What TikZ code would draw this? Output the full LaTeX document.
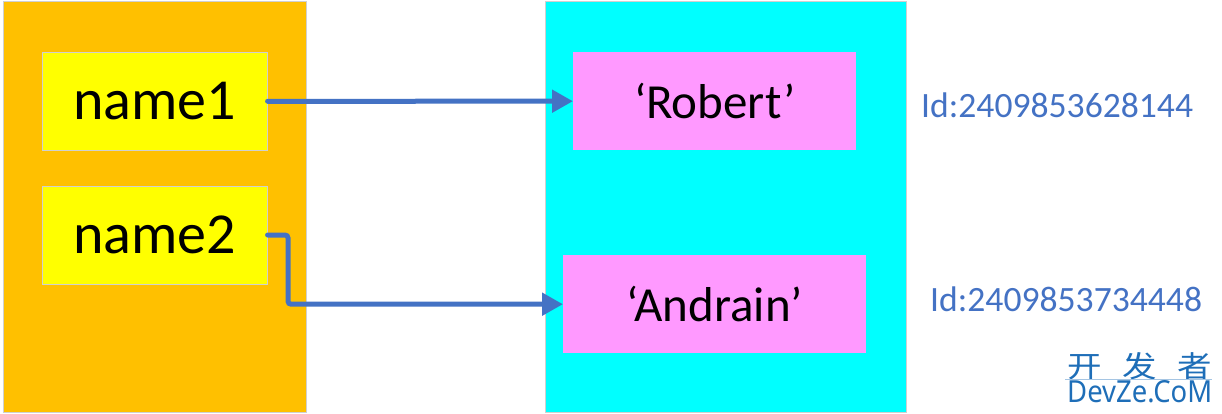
\documentclass[tikz,border=0pt]{standalone}
\usepackage{fontspec}
\usepackage{graphicx}
\setmainfont{Carlito}
\setsansfont{Noto Sans}
\newfontfamily\cjk{Noto Sans CJK SC}
\usetikzlibrary{arrows.meta}
\definecolor{panelorange}{HTML}{FFC000}
\definecolor{boxyellow}{HTML}{FFFF00}
\definecolor{panelcyan}{HTML}{00FFFF}
\definecolor{boxpink}{HTML}{FF99FF}
\definecolor{arrowblue}{HTML}{4472C4}
\definecolor{markblue}{HTML}{1E6EB8}
\definecolor{edgegray}{HTML}{D0D0D0}
\begin{document}
\begin{tikzpicture}[x=1pt,y=-1pt,
  panel/.style={draw=edgegray, line width=0.8pt, inner sep=0pt, anchor=north west},
  varbox/.style={draw=edgegray, line width=0.6pt, fill=boxyellow, inner sep=0pt, anchor=north west,
     minimum width=225pt, minimum height=98pt, font=\fontsize{58}{62}\selectfont},
  valbox/.style={fill=boxpink, inner sep=0pt, anchor=north west,
     minimum height=98pt, font=\fontsize{49}{52}\selectfont},
  idtext/.style={text=arrowblue, inner sep=0pt, anchor=west, font=\fontsize{35.6}{38}\selectfont},
  ref/.style={draw=arrowblue, line width=5pt, line cap=round, rounded corners=3pt,
     -{Triangle[length=21pt,width=22pt]}}
]
\useasboundingbox (0,0) rectangle (1222,414);
\fill[white] (0,0) rectangle (1222,414);
% panels
\node[panel, fill=panelorange, minimum width=303pt, minimum height=411pt] (stack) at (3,1) {};
\node[panel, fill=panelcyan, minimum width=361pt, minimum height=411pt] (heap) at (545,1) {};
% variable boxes
\node[varbox] (name1) at (42,52) {name1};
\node[varbox] (name2) at (42,186) {name2};
% value boxes
\node[valbox, minimum width=283pt] (robert) at (573,52) {‘Robert’};
\node[valbox, minimum width=303pt] (andrain) at (563,255) {‘Andrain’};
% ids
\node[idtext] (id1) at (921,105) {Id:2409853628144};
\node[idtext] (id2) at (930,299) {Id:2409853734448};
% references
\draw[ref] (name1.east) -- (robert.west);
\coordinate (bend) at (288,235);
\draw[ref] (name1.east |- 0,235) -- (bend) |- (andrain.west);
% watermark
\node[inner sep=0pt, anchor=north west, text=markblue] (wm1) at (1067,352)
  {\resizebox{145pt}{25pt}{\cjk 开\hspace{0.6em}发\hspace{0.6em}者}};
\node[inner sep=0pt, anchor=north west, text=markblue] (wm2) at (1067,380)
  {\resizebox{145pt}{22pt}{\sffamily DevZe.CoM}};
\draw[markblue!40, line width=0.6pt] (1065,379) -- (1212,379);
\end{tikzpicture}
\end{document}
